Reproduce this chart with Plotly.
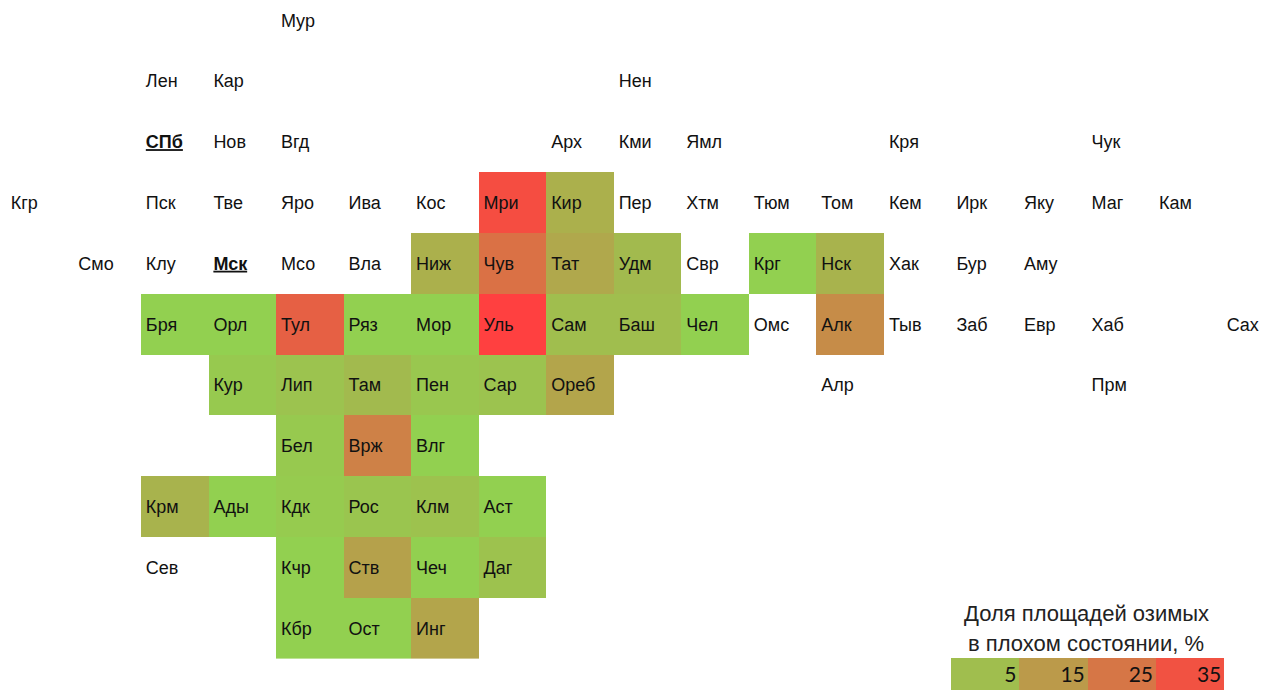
import plotly.graph_objects as go

regions = ["Мур",
           "Лен", "Кар", "Нен",
           "СПб", "Нов", "Вгд", "Арх", "Кми", "Ямл", "Кря", "Чук",
           "Кгр", "Пск", "Тве", "Яро", "Ива", "Кос", "Мри", "Кир", "Пер", "Хтм", "Тюм", "Том", "Кем", "Ирк", "Яку", "Маг", "Кам",
           "Смо", "Клу", "Мск", "Мсо", "Вла", "Ниж", "Чув", "Тат", "Удм", "Свр", "Крг", "Нск", "Хак", "Бур", "Аму",
           "Бря", "Орл", "Тул", "Ряз", "Мор", "Уль", "Сам", "Баш", "Чел", "Омс", "Алк", "Тыв", "Заб", "Евр", "Хаб", "Сах",
           "Кур", "Лип", "Там", "Пен", "Сар", "Ореб", "Алр", "Прм",
           "Бел", "Врж", "Влг",
           "Крм", "Ады", "Кдк", "Рос", "Клм", "Аст",
           "Сев", "Кчр", "Ств", "Чеч", "Даг",
           "Кбр", "Ост", "Инг"]
columns = [4,
           2, 3, 9,
           2, 3, 4, 8, 9, 10, 13, 16,
           0, 2, 3, 4, 5, 6, 7, 8, 9, 10, 11, 12, 13, 14, 15, 16, 17,
           1, 2, 3, 4, 5, 6, 7, 8, 9, 10, 11, 12, 13, 14, 15,
           2, 3, 4, 5, 6, 7, 8, 9, 10, 11, 12, 13, 14, 15, 16, 18,
           3, 4, 5, 6, 7, 8, 12, 16,
           4, 5, 6,
           2, 3, 4, 5, 6, 7,
           2, 4, 5, 6, 7,
           4, 5, 6]
rows = [0,
        1, 1, 1,
        2, 2, 2, 2, 2, 2, 2, 2,
        *[3] * 17,
        *[4] * 15,
        *[5] * 16,
        *[6] * 8,
        *[7] * 3,
        *[8] * 6,
        *[9] * 5,
        *[10] * 3]
shares = [None,
          None, None, None,
          None, None, None, None, None, None, None, None,
          None, None, None, None, None, None, 36.5, 9, None, None, None, None, None, None, None, None, None,
          None, None, None, None, None, 9, 26.5, 11, 6, None, 0, 8, None, None, None,
          0, 0, 31, 0, 0, 40, 5, 5, 0, None, 19, None, None, None, None, None,
          2, 3.5, 6, 2.5, 3.5, 12, None, None,
          2, 22, 0,
          8, 0, 1.5, 3, 4, 0,
          None, 0, 13, 0, 4,
          0, 0, 12]
capitals = ["СПб", "Мск"]
legend_values = [5, 15, 25, 35]
legend_title = ["Доля площадей озимых", "в плохом состоянии, %"]

n_rows, n_cols = 11, 19
grid = [[None] * n_cols for _ in range(n_rows)]
for c, r, s in zip(columns, rows, shares):
    grid[r][c] = s

scale = [[0, "#92D050"], [1, "#FF4040"]]
labels = [f"<b><u>{n}</u></b>" if n in capitals else n for n in regions]

fig = go.Figure()
fig.add_trace(go.Heatmap(z=grid, x=list(range(n_cols)), y=list(range(n_rows)),
                         coloraxis="coloraxis", hoverongaps=False, xgap=0, ygap=0))
fig.add_trace(go.Scatter(x=[c - 0.43 for c in columns], y=[r + 0.033 for r in rows], mode="text", text=labels,
                         textposition="middle right", cliponaxis=False,
                         textfont=dict(family="Liberation Sans", size=18, color="#111111"),
                         showlegend=False))
fig.add_trace(go.Heatmap(z=[legend_values], x=[0, 1, 2, 3], y=[0], coloraxis="coloraxis",
                         xaxis="x2", yaxis="y2"))
fig.add_trace(go.Scatter(x=[i + 0.46 for i in range(4)], y=[-0.1] * 4, mode="text",
                         text=[str(v) for v in legend_values], textposition="middle left",
                         textfont=dict(family="Lato", size=21, color="#111111"),
                         cliponaxis=False, showlegend=False, xaxis="x2", yaxis="y2"))

col_w, row_h = 67.55, 60.8
W, H = 1262, 690
x0 = -0.5 - 6 / col_w
y_top = -20 / row_h
fig.update_layout(
    width=W, height=H, margin=dict(l=0, r=0, t=0, b=0),
    paper_bgcolor="white", plot_bgcolor="white", showlegend=False,
    coloraxis=dict(colorscale=scale, cmin=0, cmax=40, showscale=False),
    xaxis=dict(range=[x0, x0 + W / col_w], domain=[0, 1], visible=False),
    yaxis=dict(range=[y_top + H / row_h, y_top], domain=[0, 1], visible=False),
    xaxis2=dict(range=[-0.5, 3.5], domain=[951 / W, 1224 / W], anchor="y2", visible=False),
    yaxis2=dict(range=[-0.5, 0.5], domain=[0, 32 / H], anchor="x2", visible=False),
    annotations=[dict(text=t, xref="paper", yref="paper", x=1086 / W, y=(H - yc) / H,
                      xanchor="center", yanchor="middle", showarrow=False, align="center",
                      font=dict(family="Liberation Sans", size=22, color="#222222"))
                 for t, yc in zip(legend_title, [613, 643])],
)
fig.write_html("out.html", config={"displayModeBar": False},
               post_script="document.body.style.margin='0';document.body.style.overflow='hidden';")
